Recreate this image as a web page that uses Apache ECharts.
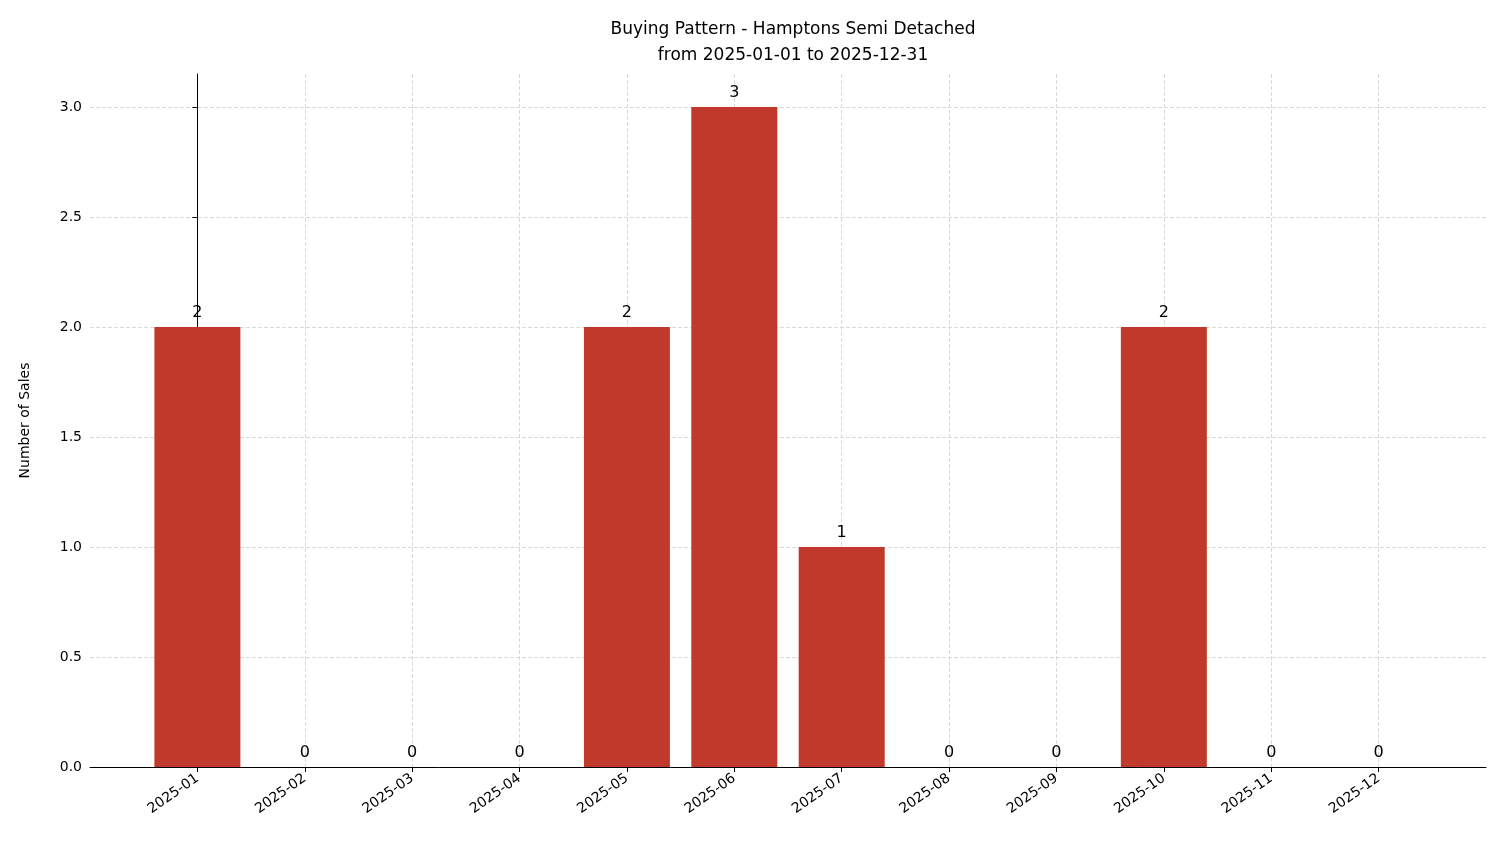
<!doctype html>
<html lang="en">
<head>
<meta charset="UTF-8">
<script src="https://cdn.jsdelivr.net/npm/echarts@6/dist/echarts.min.js"></script>
<title>Buying Pattern</title>
<style>body{margin:0;background:#fff}</style>
</head>
<body>
<div id="main" style="width:1501px;height:863px;"></div>
<script>
var months = ['2025-01','2025-02','2025-03','2025-04','2025-05','2025-06','2025-07','2025-08','2025-09','2025-10','2025-11','2025-12'];
var sales = [2, 0, 0, 0, 2, 3, 1, 0, 0, 2, 0, 0];
var yTicks = [0, 0.5, 1, 1.5, 2, 2.5, 3];

var chart = echarts.init(document.getElementById('main'));
var idx = months.map(function (m, i) { return i; });
var font = 'DejaVu Sans';

chart.setOption({
    animation: false,
    textStyle: { fontFamily: font },
    title: {
        text: 'Buying Pattern - Hamptons Semi Detached\nfrom 2025-01-01 to 2025-12-31',
        left: 788, top: 12, textAlign: 'center',
        textStyle: { fontSize: 17, fontWeight: 'normal', color: '#000', lineHeight: 26, fontFamily: font }
    },
    grid: { left: 90, right: 15, top: 74, bottom: 96 },
    xAxis: {
        type: 'value', min: -1, max: 12, interval: 1,
        axisLine: { lineStyle: { color: '#000' } },
        axisTick: { show: true, customValues: idx, length: 5, lineStyle: { color: '#000' } },
        axisLabel: {
            customValues: idx, rotate: 35, fontSize: 14, color: '#000', margin: 10,
            formatter: function (v) { return months[v] || ''; }
        },
        splitLine: { show: true, lineStyle: { color: '#d9d9d9', type: 'dashed' } }
    },
    yAxis: {
        type: 'value', min: 0, max: 3.15,
        name: 'Number of Sales', nameLocation: 'middle', nameGap: 58,
        nameTextStyle: { fontSize: 14, color: '#000', fontFamily: font },
        axisLine: { show: true, lineStyle: { color: '#000' } },
        axisTick: { show: true, customValues: yTicks, length: 5, lineStyle: { color: '#000' } },
        axisLabel: {
            customValues: yTicks, fontSize: 14, color: '#000',
            formatter: function (v) { return v.toFixed(1); }
        },
        splitLine: { show: true, lineStyle: { color: '#d9d9d9', type: 'dashed' } }
    },
    series: [{
        type: 'bar',
        barWidth: 86,
        itemStyle: { color: '#c0392b' },
        label: { show: true, position: 'top', fontSize: 16, color: '#000', distance: 6,
            formatter: function (p) { return p.value[1]; } },
        data: sales.map(function (v, i) { return [i, v]; })
    }]
});
</script>
</body>
</html>
